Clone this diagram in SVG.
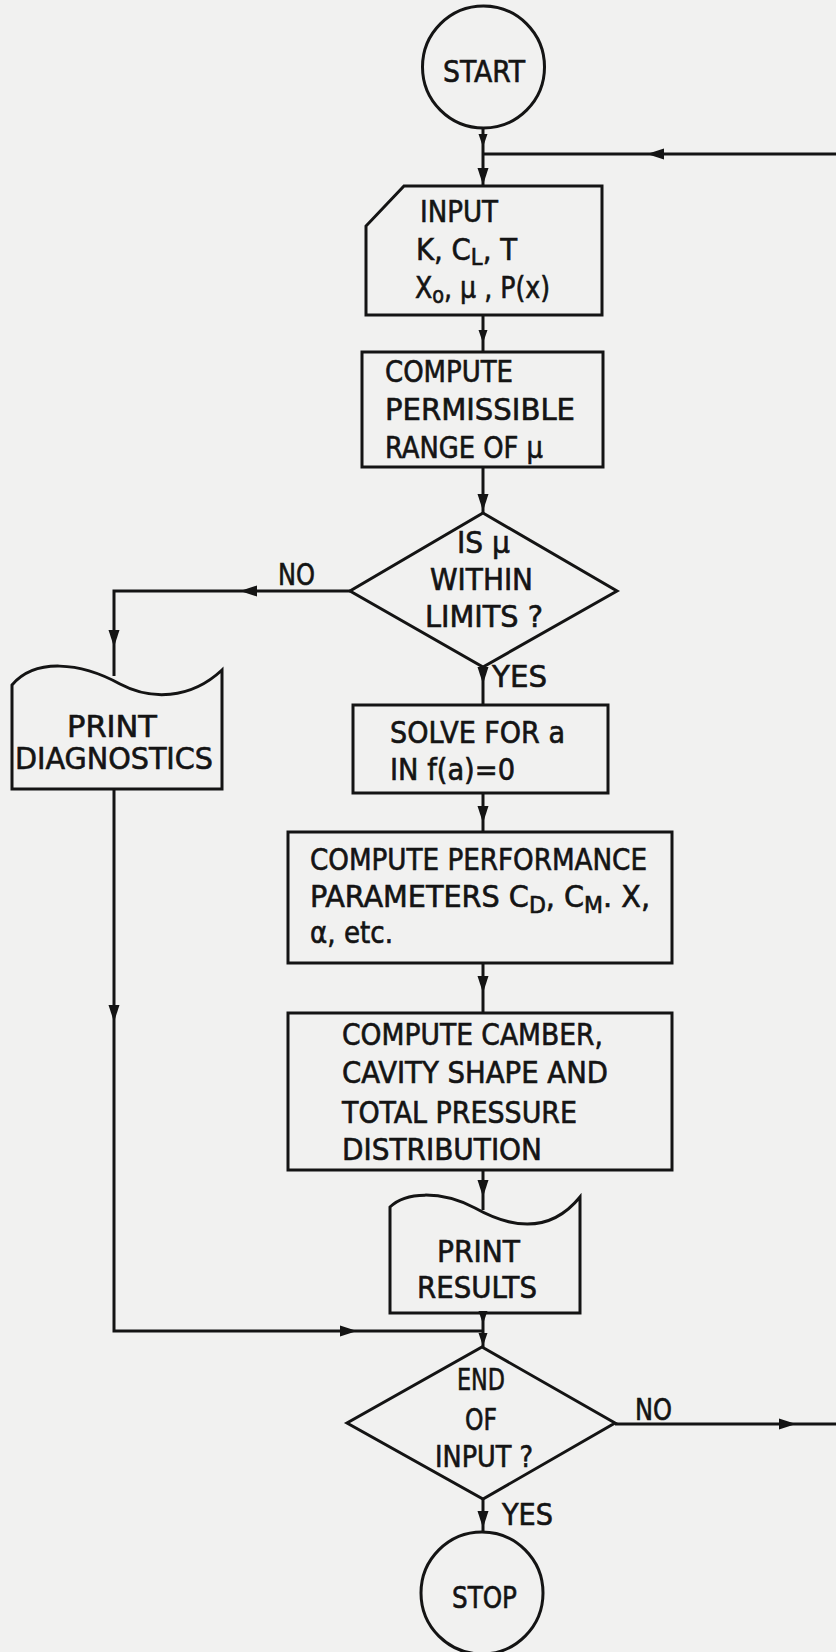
<svg xmlns="http://www.w3.org/2000/svg" xmlns:xlink="http://www.w3.org/1999/xlink" width="836" height="1652" viewBox="0 0 836 1652">
<style>
.s{fill:none;stroke:#141414;stroke-width:3;stroke-linejoin:miter}
.c{fill:none;stroke:#141414;stroke-width:3}
.t{font-family:"DejaVu Sans Condensed","DejaVu Sans","Liberation Sans",sans-serif;font-stretch:condensed;font-size:30px;fill:#141414;stroke:#141414;stroke-width:0.6}
.sub{font-size:23px}
.ah{fill:#141414}
</style>
<defs>
<path id="ah" d="M0,0 L-17,-5.5 L-17,5.5 Z"/>
<path id="ahs" d="M0,0 L-13,-4.5 L-13,4.5 Z"/>
</defs>
<rect x="0" y="0" width="836" height="1652" fill="#f1f1f0"/>

<g id="connectors">
<path class="c" d="M483,128 L483,186"/>
<path class="c" d="M836,154 L483,154"/>
<path class="c" d="M483,315 L483,352"/>
<path class="c" d="M483,467 L483,513"/>
<path class="c" d="M350,591 L114,591 L114,676"/>
<path class="c" d="M483,667 L483,705"/>
<path class="c" d="M483,793 L483,832"/>
<path class="c" d="M483,963 L483,1013"/>
<path class="c" d="M483,1170 L483,1210"/>
<path class="c" d="M483,1313 L483,1347"/>
<path class="c" d="M114,789 L114,1331 L483,1331"/>
<path class="c" d="M615,1424 L836,1424"/>
<path class="c" d="M483,1499 L483,1532"/>
<g class="ah">
<use xlink:href="#ahs" transform="translate(483,147) rotate(90)"/>
<use xlink:href="#ah" transform="translate(483,185) rotate(90)"/>
<use xlink:href="#ah" transform="translate(647,154) rotate(180)"/>
<use xlink:href="#ahs" transform="translate(483,343) rotate(90)"/>
<use xlink:href="#ah" transform="translate(483,511) rotate(90)"/>
<use xlink:href="#ah" transform="translate(240,591) rotate(180)"/>
<use xlink:href="#ah" transform="translate(114,647) rotate(90)"/>
<use xlink:href="#ah" transform="translate(483,684) rotate(90)"/>
<use xlink:href="#ah" transform="translate(483,823) rotate(90)"/>
<use xlink:href="#ah" transform="translate(483,993) rotate(90)"/>
<use xlink:href="#ah" transform="translate(483,1197) rotate(90)"/>
<use xlink:href="#ahs" transform="translate(483,1324) rotate(90)"/>
<use xlink:href="#ahs" transform="translate(483,1346) rotate(90)"/>
<use xlink:href="#ah" transform="translate(114,1022) rotate(90)"/>
<use xlink:href="#ah" transform="translate(357,1331)"/>
<use xlink:href="#ah" transform="translate(796,1424)"/>
<use xlink:href="#ah" transform="translate(483,1528) rotate(90)"/>
</g>
<text class="t" x="278" y="585" textLength="37" lengthAdjust="spacingAndGlyphs">NO</text>
<text class="t" x="492" y="687" textLength="55" lengthAdjust="spacingAndGlyphs">YES</text>
<text class="t" x="635" y="1420" textLength="37" lengthAdjust="spacingAndGlyphs">NO</text>
<text class="t" x="502" y="1525" textLength="51" lengthAdjust="spacingAndGlyphs">YES</text>
</g>

<g id="start">
<circle class="s" cx="483.5" cy="67" r="61"/>
<text class="t" x="443" y="82" textLength="82" lengthAdjust="spacingAndGlyphs">START</text>
</g>

<g id="input">
<path class="s" d="M404,186 L602,186 L602,315 L366,315 L366,226 Z"/>
<text class="t" x="420" y="222" textLength="78" lengthAdjust="spacingAndGlyphs">INPUT</text>
<text class="t" x="416" y="260" textLength="101" lengthAdjust="spacingAndGlyphs">K, C<tspan class="sub" dy="5">L</tspan><tspan dy="-5">, T</tspan></text>
<text class="t" x="415" y="298" textLength="135" lengthAdjust="spacingAndGlyphs">X<tspan class="sub" dy="5">o</tspan><tspan dy="-5">, μ , P(x)</tspan></text>
</g>

<g id="compute-range">
<rect class="s" x="362" y="352" width="241" height="115"/>
<text class="t" x="385" y="382" textLength="128" lengthAdjust="spacingAndGlyphs">COMPUTE</text>
<text class="t" x="385" y="420" textLength="190" lengthAdjust="spacingAndGlyphs">PERMISSIBLE</text>
<text class="t" x="385" y="458" textLength="158" lengthAdjust="spacingAndGlyphs">RANGE OF μ</text>
</g>

<g id="decision-mu">
<polygon class="s" points="483,513 617,591 483,667 350,591"/>
<text class="t" x="457" y="553" textLength="53" lengthAdjust="spacingAndGlyphs">IS μ</text>
<text class="t" x="430" y="590" textLength="103" lengthAdjust="spacingAndGlyphs">WITHIN</text>
<text class="t" x="425" y="627" textLength="118" lengthAdjust="spacingAndGlyphs">LIMITS ?</text>
</g>

<g id="print-diagnostics">
<path class="s" d="M12,685 C35,658 80,662 120,684 C150,700 190,700 222,670 L222,789 L12,789 Z"/>
<text class="t" x="67" y="737" textLength="90" lengthAdjust="spacingAndGlyphs">PRINT</text>
<text class="t" x="15" y="769" textLength="198" lengthAdjust="spacingAndGlyphs">DIAGNOSTICS</text>
</g>

<g id="solve">
<rect class="s" x="353" y="705" width="255" height="88"/>
<text class="t" x="390" y="743" textLength="175" lengthAdjust="spacingAndGlyphs">SOLVE FOR a</text>
<text class="t" x="390" y="780" textLength="125" lengthAdjust="spacingAndGlyphs">IN f(a)=0</text>
</g>

<g id="compute-performance">
<rect class="s" x="288" y="832" width="384" height="131"/>
<text class="t" x="310" y="870" textLength="337" lengthAdjust="spacingAndGlyphs">COMPUTE PERFORMANCE</text>
<text class="t" x="310" y="907" textLength="340" lengthAdjust="spacingAndGlyphs">PARAMETERS C<tspan class="sub" dy="6">D</tspan><tspan dy="-6">, C</tspan><tspan class="sub" dy="6">M</tspan><tspan dy="-6">. X,</tspan></text>
<text class="t" x="310" y="943" textLength="83" lengthAdjust="spacingAndGlyphs">α, etc.</text>
</g>

<g id="compute-camber">
<rect class="s" x="288" y="1013" width="384" height="157"/>
<text class="t" x="342" y="1045" textLength="261" lengthAdjust="spacingAndGlyphs">COMPUTE CAMBER,</text>
<text class="t" x="342" y="1083" textLength="266" lengthAdjust="spacingAndGlyphs">CAVITY SHAPE AND</text>
<text class="t" x="342" y="1123" textLength="235" lengthAdjust="spacingAndGlyphs">TOTAL PRESSURE</text>
<text class="t" x="342" y="1160" textLength="200" lengthAdjust="spacingAndGlyphs">DISTRIBUTION</text>
</g>

<g id="print-results">
<path class="s" d="M390,1207 C405,1192 440,1190 475,1208 C500,1222 545,1240 580,1197 L580,1313 L390,1313 Z"/>
<text class="t" x="437" y="1262" textLength="83" lengthAdjust="spacingAndGlyphs">PRINT</text>
<text class="t" x="417" y="1298" textLength="120" lengthAdjust="spacingAndGlyphs">RESULTS</text>
</g>

<g id="decision-end">
<polygon class="s" points="482,1347 615,1423 483,1499 347,1423"/>
<text class="t" x="457" y="1390" textLength="48" lengthAdjust="spacingAndGlyphs">END</text>
<text class="t" x="465" y="1430" textLength="32" lengthAdjust="spacingAndGlyphs">OF</text>
<text class="t" x="435" y="1467" textLength="98" lengthAdjust="spacingAndGlyphs">INPUT ?</text>
</g>

<g id="stop">
<circle class="s" cx="482" cy="1593" r="61"/>
<text class="t" x="452" y="1608" textLength="65" lengthAdjust="spacingAndGlyphs">STOP</text>
</g>
</svg>
